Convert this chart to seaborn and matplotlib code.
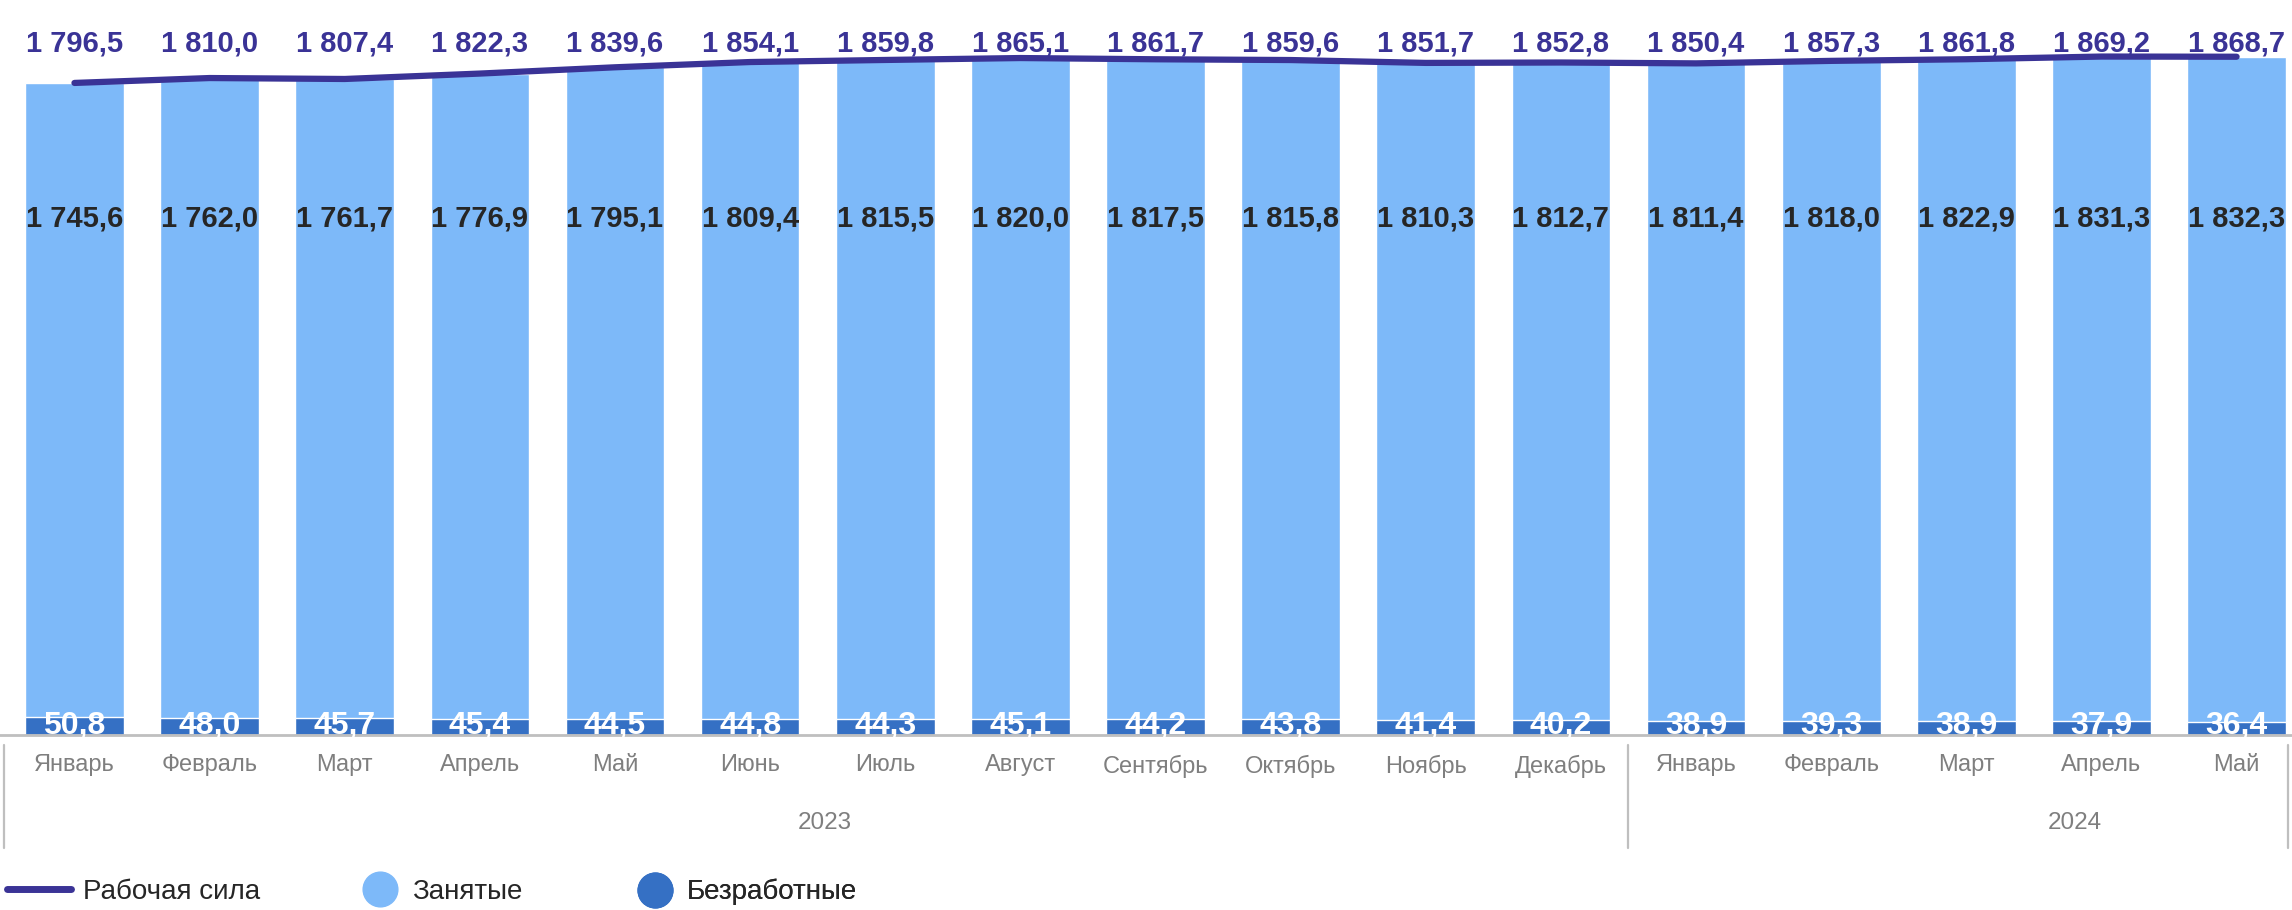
import matplotlib
matplotlib.use("Agg")
import matplotlib.pyplot as plt
from matplotlib.lines import Line2D
import seaborn as sns
import numpy as np
import pandas as pd

months = ['Январь', 'Февраль', 'Март', 'Апрель', 'Май', 'Июнь', 'Июль', 'Август',
          'Сентябрь', 'Октябрь', 'Ноябрь', 'Декабрь',
          'Январь', 'Февраль', 'Март', 'Апрель', 'Май']
years = ['2023', '2024']
labour_force = [1796.5, 1810.0, 1807.4, 1822.3, 1839.6, 1854.1, 1859.8, 1865.1, 1861.7,
                1859.6, 1851.7, 1852.8, 1850.4, 1857.3, 1861.8, 1869.2, 1868.7]
employed = [1745.6, 1762.0, 1761.7, 1776.9, 1795.1, 1809.4, 1815.5, 1820.0, 1817.5,
            1815.8, 1810.3, 1812.7, 1811.4, 1818.0, 1822.9, 1831.3, 1832.3]
unemployed = [50.8, 48.0, 45.7, 45.4, 44.5, 44.8, 44.3, 45.1, 44.2,
              43.8, 41.4, 40.2, 38.9, 39.3, 38.9, 37.9, 36.4]

LIGHT = '#7DB9F9'
DARK = '#3570C4'
LINE = '#3A3396'
GRAY = '#7F7F7F'
SEP = '#BFBFBF'

sns.set_theme(style='white')
plt.rcParams['font.family'] = ['Liberation Sans', 'DejaVu Sans']


def fmt(v):
    s = f'{v:,.1f}'
    return s.replace(',', ' ').replace('.', ',')


def main():
    df = pd.DataFrame({
        'idx': np.arange(len(months)),
        'month': months,
        'labour': labour_force,
        'employed': employed,
        'unemployed': unemployed,
    })
    df['total'] = df['employed'] + df['unemployed']

    fig = plt.figure(figsize=(22.92, 9.10), dpi=100)
    ax = fig.add_axes([0, 1 - 735 / 910, 1, 735 / 910])

    sns.barplot(data=df, x='idx', y='total', color=LIGHT, saturation=1,
                width=0.73, errorbar=None, ax=ax)
    sns.barplot(data=df, x='idx', y='unemployed', color=DARK, saturation=1,
                width=0.73, errorbar=None, ax=ax)
    sns.lineplot(data=df, x='idx', y='labour', color=LINE, lw=4.5, ax=ax,
                 solid_capstyle='round')

    for i, r in df.iterrows():
        ax.text(i, 1905, fmt(r['labour']), ha='center', va='center',
                fontsize=21, fontweight='bold', color=LINE)
        ax.text(i, 1422, fmt(r['employed']), ha='center', va='center',
                fontsize=21, fontweight='bold', color='#262626')
        ax.text(i, 26, fmt(r['unemployed']), ha='center', va='center',
                fontsize=23, fontweight='bold', color='white')

    ax.set_xlim(-0.551, 16.41)
    ax.set_ylim(0, 2025)
    ax.set_xticks(df['idx'])
    ax.set_xticklabels(months, color=GRAY, fontsize=17)
    ax.tick_params(axis='x', length=0, pad=14)
    ax.set_yticks([])
    ax.set_xlabel('')
    ax.set_ylabel('')
    for s in ['top', 'left', 'right']:
        ax.spines[s].set_visible(False)
    ax.spines['bottom'].set_color(SEP)
    ax.spines['bottom'].set_linewidth(2)

    # year groups
    tr = ax.get_xaxis_transform()
    for x in [-0.52, 11.5, 16.38]:
        ax.plot([x, x], [-0.0136, -0.1537], color=SEP, lw=1.6, transform=tr, clip_on=False)
    for x, y in zip([5.55, 14.8], years):
        ax.text(x, -0.1197, y, ha='center', va='center', fontsize=17.5, color=GRAY, transform=tr)

    # legend
    ly = 1 - 892 / 910
    h1 = Line2D([], [], color=LINE, lw=5)
    h2 = Line2D([], [], marker='o', ls='', markersize=25, color=LIGHT)
    h3 = Line2D([], [], marker='o', ls='', markersize=25, color=DARK)
    specs = [(h1, 'Рабочая сила', 7, 2.3, 0.45),
             (h2, 'Занятые', 362, 1.3, 0.5),
             (h3, 'Безработные', 637, 1.3, 0.5)]
    for h, lab, x0, hl, hp in specs:
        leg = ax.legend(handles=[h], labels=[lab], loc='center left',
                        bbox_to_anchor=(x0 / 2292, ly), bbox_transform=fig.transFigure,
                        frameon=False, borderpad=0, borderaxespad=0, fontsize=20,
                        handlelength=hl, handletextpad=hp)
        ax.add_artist(leg)

    fig.savefig('out.png', dpi=100)


if __name__ == '__main__':
    main()
